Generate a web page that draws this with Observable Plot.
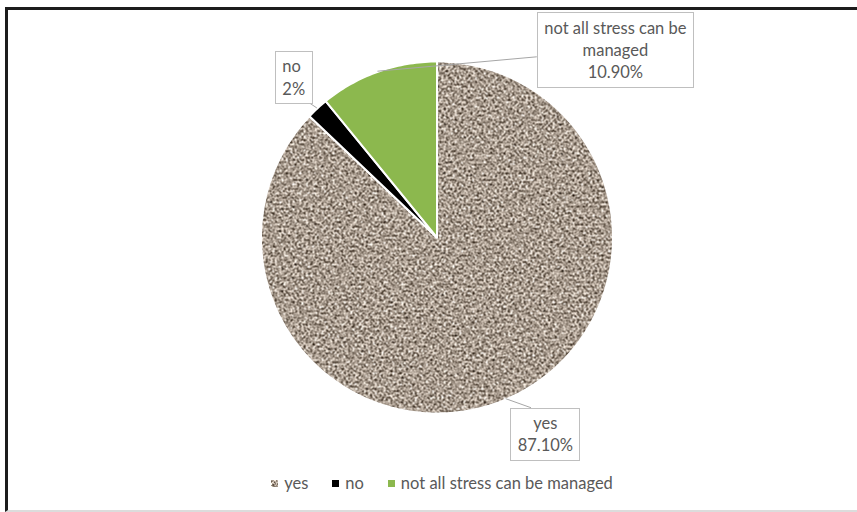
<!DOCTYPE html>
<html>
<head>
<meta charset="utf-8">
<script src="https://cdn.jsdelivr.net/npm/d3@7"></script>
<script src="https://cdn.jsdelivr.net/npm/@observablehq/plot@0.6"></script>
<style>
  html, body { margin: 0; padding: 0; background: #fff; }
  body { width: 857px; height: 512px; overflow: hidden; position: relative; }
  #frame {
    position: absolute; left: 5px; top: 7px; width: 852px; height: 505px;
    box-sizing: border-box;
    border-top: 3px solid #1c1c1c; border-left: 3px solid #1c1c1c; border-bottom: 2px solid #dcdcdc;
  }
  #chart svg { display: block; }
  #legend { display: flex; justify-content: center; padding-left: 19px; margin-top: 1px; }
  #legend .lg-swatches { font: 16.5px Lato, "Open Sans", sans-serif; color: #595959; min-height: 20px; margin: 0; }
  #legend .lg-swatch { margin-right: 24px; }
  #legend .lg-swatch:last-child { margin-right: 0; }
  #legend .lg-swatch > svg { margin-right: 6px; }
</style>
</head>
<body>
<div id="frame">
  <div id="chart"></div>
  <div id="legend"></div>
</div>
<script>
// Survey answers: can stress be managed?
const categories = ["yes", "no", "not all stress can be managed"];
const shares = [87.1, 2, 10.9];
const valueLabels = ["87.10%", "2%", "10.90%"];

// Slice fills: a speckled granite texture, solid black, light green
const palette = ["url(#granite)", "#000000", "#8cb84e"];
const textColor = "#595959";
const fontFamily = "Lato, 'Open Sans', sans-serif";
const fontSize = 16.5;

// Plot geometry
const W = 849, H = 462;
const cx = 428.5, cy = 227, R = 176;
const margins = {marginLeft: cx - R, marginRight: W - cx - R, marginTop: cy - R, marginBottom: H - cy - R};

// Slices run clockwise from 12 o'clock
const total = d3.sum(shares);
let acc = 0;
const slices = categories.map((label, i) => {
  const a0 = acc / total * 2 * Math.PI;
  acc += shares[i];
  const a1 = acc / total * 2 * Math.PI;
  const am = (a0 + a1) / 2;
  return {label, i, a0, a1, edge: {x: Math.sin(am), y: Math.cos(am)}};
});

// Closed outline of each wedge (centre -> arc -> centre)
const outline = slices.flatMap(s => {
  const n = Math.max(2, Math.ceil((s.a1 - s.a0) / (Math.PI / 180)));
  const pts = [{label: s.label, x: 0, y: 0}];
  for (let k = 0; k <= n; ++k) {
    const a = s.a0 + (s.a1 - s.a0) * k / n;
    pts.push({label: s.label, x: Math.sin(a), y: Math.cos(a)});
  }
  pts.push({label: s.label, x: 0, y: 0});
  return pts;
});

// Data-label placement: pixel offset from the wedge's outer midpoint,
// and where the leader line meets the label box (fraction of box width/height)
const labelLayout = [
  {dx: 39, dy: 34, anchor: "middle", attach: [0.3, 0]},
  {dx: -35, dy: -32, anchor: "start", attach: [0.95, 1]},
  {dx: 237.5, dy: -23, anchor: "middle", attach: [0, 0.6]}
];

const labelMarks = slices.map((s, i) => {
  const L = labelLayout[i];
  return Plot.text([s], {
    x: d => d.edge.x + L.dx / R,
    y: d => d.edge.y - L.dy / R,
    text: d => d.label + "\n" + valueLabels[d.i],
    lineWidth: 10,
    lineHeight: 1.35,
    textAnchor: L.anchor,
    fontSize,
    fontFamily,
    fill: textColor
  });
});

const plot = Plot.plot({
  width: W,
  height: H,
  ...margins,
  x: {domain: [-1, 1], axis: null},
  y: {domain: [-1, 1], axis: null},
  color: {domain: categories, range: palette},
  style: {background: "transparent", overflow: "visible"},
  marks: [
    Plot.line(outline, {x: "x", y: "y", z: "label", fill: "label", stroke: "white", strokeWidth: 2, strokeLinejoin: "round"}),
    ...labelMarks
  ]
});

const svg = d3.select(plot);

// Granite texture for the "yes" wedge
const defs = svg.insert("defs", ":first-child");
const filter = defs.append("filter")
  .attr("id", "grain").attr("x", 0).attr("y", 0).attr("width", 1).attr("height", 1)
  .attr("color-interpolation-filters", "sRGB");
filter.append("feTurbulence")
  .attr("type", "fractalNoise").attr("baseFrequency", 0.45).attr("numOctaves", 3).attr("seed", 7);
filter.append("feColorMatrix").attr("type", "matrix").attr("values",
  "1.8 0 0 0 -0.24  1.8 0 0 0 -0.29  1.8 0 0 0 -0.34  0 0 0 0 1");
const pattern = defs.append("pattern")
  .attr("id", "granite").attr("patternUnits", "userSpaceOnUse")
  .attr("width", W).attr("height", H);
pattern.append("rect").attr("width", W).attr("height", H).attr("filter", "url(#grain)");

document.getElementById("chart").appendChild(plot);

// Boxes and leader lines around the data labels
const xs = plot.scale("x"), ys = plot.scale("y");
const textGroups = plot.querySelectorAll('g[aria-label="text"]');
const padX = 7, padY = 5;
textGroups.forEach((g, i) => {
  const bb = g.getBBox();
  const box = {x: bb.x - padX, y: bb.y - padY, w: bb.width + 2 * padX, h: bb.height + 2 * padY};
  const s = slices[i];
  const ex = xs.apply(s.edge.x), ey = ys.apply(s.edge.y);
  const [fx, fy] = labelLayout[i].attach;
  svg.insert("line", () => g)
    .attr("x1", ex).attr("y1", ey)
    .attr("x2", box.x + fx * box.w).attr("y2", box.y + fy * box.h)
    .attr("stroke", "#a6a6a6").attr("stroke-width", 1);
  svg.insert("rect", () => g)
    .attr("x", Math.round(box.x) + 0.5).attr("y", Math.round(box.y) + 0.5)
    .attr("width", Math.round(box.w)).attr("height", Math.round(box.h))
    .attr("fill", "white").attr("stroke", "#bfbfbf").attr("stroke-width", 1);
});

// Legend below the pie
const legend = Plot.legend({
  color: {domain: categories, range: palette},
  legend: "swatches",
  swatchSize: 7,
  className: "lg"
});
document.getElementById("legend").appendChild(legend);
</script>
</body>
</html>
